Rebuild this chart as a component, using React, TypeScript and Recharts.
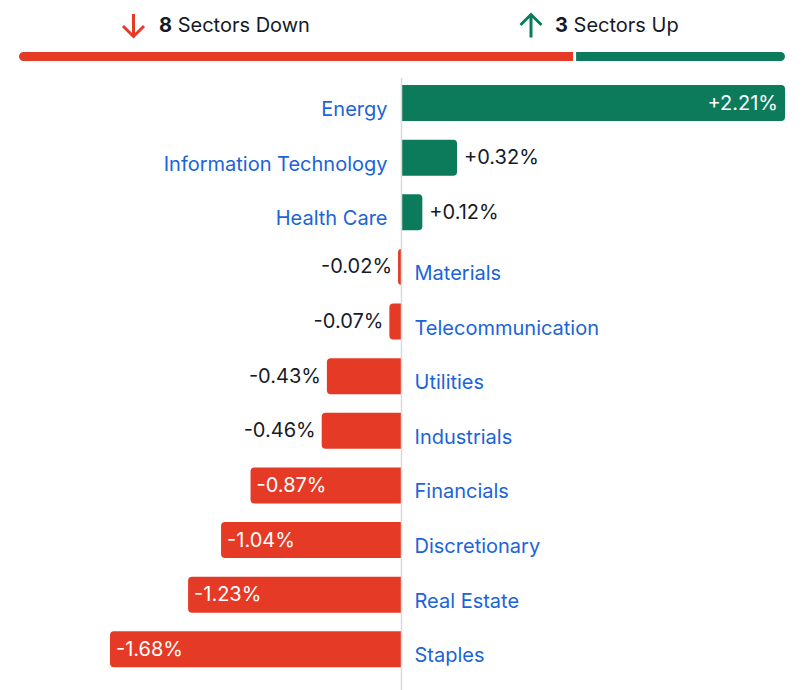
import React from "react";
import { BarChart, Bar, XAxis, YAxis, ReferenceLine } from "recharts";

// daily sector moves, in percent
const sectors = [
  "Energy",
  "Information Technology",
  "Health Care",
  "Materials",
  "Telecommunication",
  "Utilities",
  "Industrials",
  "Financials",
  "Discretionary",
  "Real Estate",
  "Staples",
];
const changes = [2.21, 0.32, 0.12, -0.02, -0.07, -0.43, -0.46, -0.87, -1.04, -1.23, -1.68];

const sectorsDown = 8;
const sectorsUp = 3;

const GREEN = "#0b7b5b";
const RED = "#e43a26";
const BLUE = "#1b64d8";
const INK = "#161a27";
const FONT = "Inter, 'Noto Sans', sans-serif";

const rows = sectors.map((name, i) => ({ name, change: changes[i] }));
const breadth = [{ label: "breadth", down: sectorsDown, up: sectorsUp }];

// bar path with rounded corners only on one side
function sidePath(left: number, top: number, w: number, h: number, r: number, side: "left" | "right") {
  const rr = Math.max(0, Math.min(r, w, h / 2));
  const right = left + w;
  const bottom = top + h;
  if (side === "right") {
    return `M${left},${top} H${right - rr} A${rr},${rr} 0 0 1 ${right},${top + rr} V${bottom - rr} A${rr},${rr} 0 0 1 ${right - rr},${bottom} H${left} Z`;
  }
  return `M${right},${top} H${left + rr} A${rr},${rr} 0 0 0 ${left},${top + rr} V${bottom - rr} A${rr},${rr} 0 0 0 ${left + rr},${bottom} H${right} Z`;
}

const fmt = (v: number) => (v > 0 ? `+${v.toFixed(2)}%` : `${v.toFixed(2)}%`);

function SectorBar(props: any) {
  const { x, y, width, height, payload } = props;
  const v: number = payload.change;
  const left = Math.min(x, x + width);
  const w = Math.abs(width);
  const right = left + w;
  const up = v >= 0;
  const zero = up ? left : right;
  const cy = y + height / 2;
  const inside = w > 95;

  let valueX: number;
  let anchor: "start" | "end";
  if (up) {
    valueX = inside ? right - 7 : right + 7;
    anchor = inside ? "end" : "start";
  } else {
    valueX = inside ? left + 6 : left - 6;
    anchor = inside ? "start" : "end";
  }

  return (
    <g>
      <path d={sidePath(left, y, w, height, 4, up ? "right" : "left")} fill={up ? GREEN : RED} />
      <text
        x={up ? zero - 14 : zero + 13}
        y={cy + 6}
        textAnchor={up ? "end" : "start"}
        dominantBaseline="central"
        fill={BLUE}
        fontSize={20}
        fontFamily={FONT}
      >
        {payload.name}
      </text>
      <text
        x={valueX}
        y={cy - 0.5}
        textAnchor={anchor}
        dominantBaseline="central"
        fill={inside ? "#ffffff" : INK}
        fontSize={20}
        fontFamily={FONT}
      >
        {fmt(v)}
      </text>
    </g>
  );
}

function DownSegment(props: any) {
  const { x, y, width, height } = props;
  const left = Math.min(x, x + width);
  return <path d={sidePath(left, y, Math.abs(width) - 3, height, 5, "left")} fill={RED} />;
}

function UpSegment(props: any) {
  const { x, y, width, height } = props;
  const left = Math.min(x, x + width);
  return <path d={sidePath(left, y, Math.abs(width), height, 5, "right")} fill={GREEN} />;
}

function ZeroLine(p: any) {
  const top = Math.min(p.y1, p.y2);
  const bottom = Math.max(p.y1, p.y2);
  return <line x1={p.x1} x2={p.x2} y1={top + 2} y2={bottom + 14} stroke="#dadada" strokeWidth={1.5} />;
}

export default function App() {
  const lo = Math.min(...changes);
  const hi = Math.max(...changes);
  return (
    <div style={{ position: "absolute", left: 0, top: 0, width: 804, height: 690, background: "#fff" }}>
      <svg width={804} height={50} style={{ position: "absolute", left: 0, top: 0 }}>
        <g stroke={RED} strokeWidth={3} fill="none">
          <line x1={133.5} y1={14} x2={133.5} y2={36} />
          <polyline points="123,26 133.5,36.5 144,26" />
        </g>
        <text x={159} y={32} fontSize={20} fontFamily={FONT} fill={INK}>
          <tspan fontWeight={700}>{sectorsDown}</tspan> Sectors Down
        </text>
        <g stroke={GREEN} strokeWidth={3} fill="none">
          <line x1={531} y1={15.5} x2={531} y2={37.5} />
          <polyline points="520.5,25 531,14.5 541.5,25" />
        </g>
        <text x={555} y={32} fontSize={20} fontFamily={FONT} fill={INK}>
          <tspan fontWeight={700}>{sectorsUp}</tspan> Sectors Up
        </text>
      </svg>

      <div style={{ position: "absolute", left: 0, top: 51 }}>
        <BarChart
          width={804}
          height={10}
          data={breadth}
          layout="vertical"
          margin={{ top: 0, right: 19, bottom: 0, left: 19 }}
          barSize={10}
        >
          <XAxis type="number" domain={[0, sectorsDown + sectorsUp]} hide />
          <YAxis type="category" dataKey="label" hide />
          <Bar dataKey="down" stackId="b" shape={DownSegment} isAnimationActive={false} />
          <Bar dataKey="up" stackId="b" shape={UpSegment} isAnimationActive={false} />
        </BarChart>
      </div>

      <div style={{ position: "absolute", left: 0, top: 0 }}>
        <BarChart
          width={804}
          height={690}
          data={rows}
          layout="vertical"
          margin={{ top: 76, right: 19, bottom: 13, left: 110 }}
          barSize={36}
        >
          <XAxis type="number" domain={[lo, hi]} hide />
          <YAxis type="category" dataKey="name" hide />
          <ReferenceLine x={0} shape={ZeroLine} />
          <Bar dataKey="change" shape={SectorBar} isAnimationActive={false} />
        </BarChart>
      </div>
    </div>
  );
}
